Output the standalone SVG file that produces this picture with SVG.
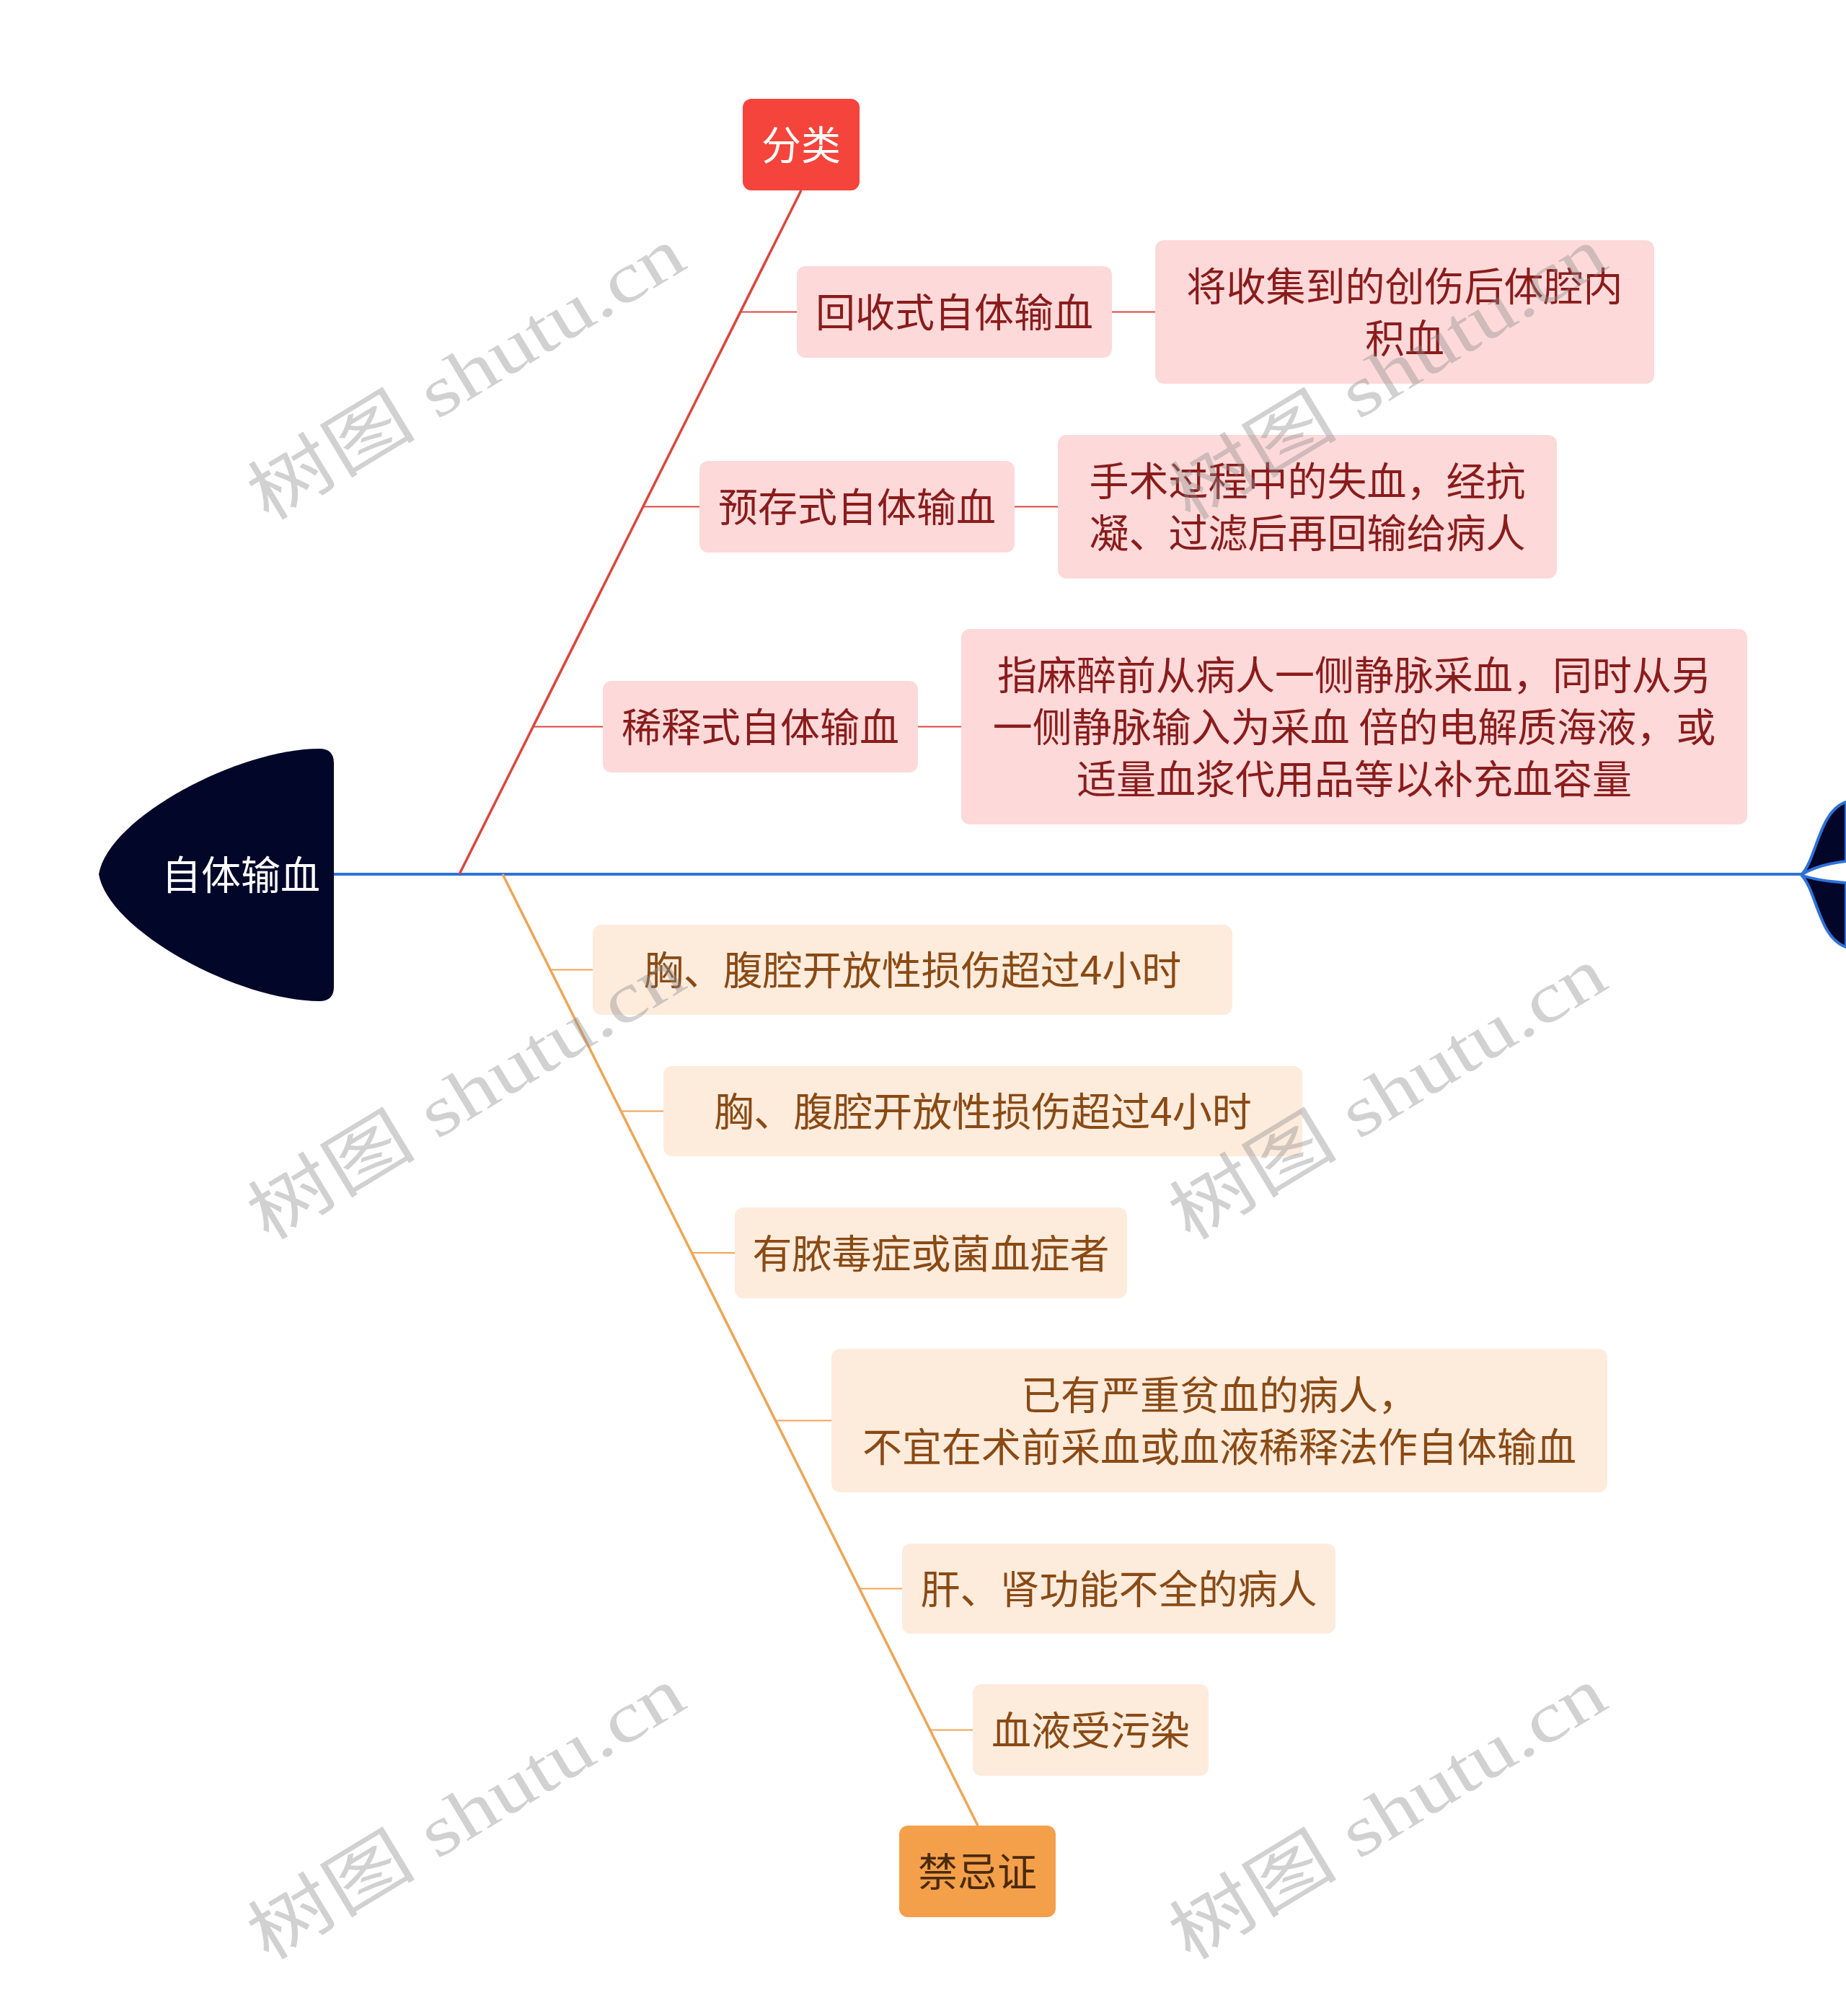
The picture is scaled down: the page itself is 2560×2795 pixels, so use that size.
<svg xmlns="http://www.w3.org/2000/svg" width="2560" height="2795" viewBox="0 0 2560 2795">
<style>
text{font-family:"Noto Sans CJK SC","Noto Sans",sans-serif;font-size:55px;text-anchor:middle;dominant-baseline:central}
.rb{fill:#fdd9d9}
.rt{fill:#8a1c1c}
.ob{fill:#fdebdc}
.ot{fill:#8a4a14}
.rl{stroke:#d9463e;stroke-width:2;fill:none}
.ol{stroke:#f0a454;stroke-width:2;fill:none}
.wm{font-family:"Liberation Serif","Noto Sans CJK SC",serif;font-size:98px;fill:#8c8c8c;fill-opacity:0.4;dominant-baseline:auto}
</style>
<rect width="2560" height="2795" fill="#ffffff"/>
<g id="connectors">
<path d="M463,1212 H2498" stroke="#2f72d8" stroke-width="4" fill="none"/>
<path d="M637,1212 L1111,264" stroke="#d9463e" stroke-width="3.5" fill="none"/>
<path class="rl" d="M1027,432.5 H1105 M892,702.5 H970 M740,1007.5 H836 M1542,432.5 H1602 M1407,702.5 H1467 M1273,1007.5 H1333"/>
<path d="M697,1212 L1356,2531" stroke="#f0a454" stroke-width="3.5" fill="none"/>
<path class="ol" d="M763,1344.5 H822 M861,1540.5 H920 M959,1737 H1019 M1075,1969.5 H1153 M1192,2202.5 H1251 M1290,2398.5 H1349"/>
</g>
<g id="root">
<path d="M443,1038 Q463,1038 463,1058 V1368 Q463,1388 443,1388 C330,1388 150,1290 137,1212 C150,1134 330,1038 443,1038 Z" fill="#020629"/>
<text x="334" y="1209" fill="#ffffff" font-size="56">自体输血</text>
</g>
<g id="tail">
<path d="M2498,1213 C2520,1190 2522,1125 2560,1112 V1194 C2535,1197 2512,1204 2498,1213 Z" fill="#020629" stroke="#2f72d8" stroke-width="4"/>
<path d="M2498,1213 C2520,1236 2522,1300 2560,1313 V1224 C2535,1222 2512,1219 2498,1213 Z" fill="#020629" stroke="#2f72d8" stroke-width="4"/>
</g>
<g id="fenlei">
<rect x="1030" y="137" width="162" height="127" rx="12" fill="#f5443b"/>
<text x="1111" y="197" fill="#ffffff">分类</text>
</g>
<g id="huishou">
<rect class="rb" x="1105" y="369" width="437" height="127" rx="12"/>
<text class="rt" x="1323.5" y="429">回收式自体输血</text>
</g>
<g id="huishou-d">
<rect class="rb" x="1602" y="333" width="692" height="199" rx="12"/>
<text class="rt" x="1948" y="393">将收集到的创伤后体腔内</text>
<text class="rt" x="1948" y="465">积血</text>
</g>
<g id="yucun">
<rect class="rb" x="970" y="639" width="437" height="127" rx="12"/>
<text class="rt" x="1188.5" y="699">预存式自体输血</text>
</g>
<g id="yucun-d">
<rect class="rb" x="1467" y="603" width="692" height="199" rx="12"/>
<text class="rt" x="1813" y="663">手术过程中的失血，经抗</text>
<text class="rt" x="1813" y="735">凝、过滤后再回输给病人</text>
</g>
<g id="xishi">
<rect class="rb" x="836" y="944" width="437" height="127" rx="12"/>
<text class="rt" x="1054.5" y="1004">稀释式自体输血</text>
</g>
<g id="xishi-d">
<rect class="rb" x="1333" y="872" width="1090" height="271" rx="12"/>
<text class="rt" x="1878" y="932">指麻醉前从病人一侧静脉采血，同时从另</text>
<text class="rt" x="1878" y="1004">一侧静脉输入为采血 倍的电解质海液，或</text>
<text class="rt" x="1878" y="1076">适量血浆代用品等以补充血容量</text>
</g>
<g id="jj1">
<rect class="ob" x="822" y="1282" width="887" height="125" rx="12"/>
<text class="ot" x="1265.5" y="1341">胸、腹腔开放性损伤超过4小时</text>
</g>
<g id="jj2">
<rect class="ob" x="920" y="1478" width="886" height="125" rx="12"/>
<text class="ot" x="1363" y="1537">胸、腹腔开放性损伤超过4小时</text>
</g>
<g id="jj3">
<rect class="ob" x="1019" y="1674" width="544" height="126" rx="12"/>
<text class="ot" x="1291" y="1733.5">有脓毒症或菌血症者</text>
</g>
<g id="jj4">
<rect class="ob" x="1153" y="1870" width="1076" height="199" rx="12"/>
<text class="ot" x="1691" y="1930">已有严重贫血的病人，</text>
<text class="ot" x="1691" y="2002">不宜在术前采血或血液稀释法作自体输血</text>
</g>
<g id="jj5">
<rect class="ob" x="1251" y="2140" width="601" height="125" rx="12"/>
<text class="ot" x="1551.5" y="2199">肝、肾功能不全的病人</text>
</g>
<g id="jj6">
<rect class="ob" x="1349" y="2335" width="327" height="127" rx="12"/>
<text class="ot" x="1512.5" y="2395">血液受污染</text>
</g>
<g id="jinjizheng">
<rect x="1247" y="2531" width="217" height="127" rx="12" fill="#f4a04b"/>
<text x="1355.5" y="2591" fill="#4a2a0c">禁忌证</text>
</g>
<g id="watermarks">
<text class="wm" transform="translate(646,518) rotate(-31.2)" x="0" y="34" textLength="684" lengthAdjust="spacingAndGlyphs">树图 shutu.cn</text>
<text class="wm" transform="translate(1924,518) rotate(-31.2)" x="0" y="34" textLength="684" lengthAdjust="spacingAndGlyphs">树图 shutu.cn</text>
<text class="wm" transform="translate(646,1516) rotate(-31.2)" x="0" y="34" textLength="684" lengthAdjust="spacingAndGlyphs">树图 shutu.cn</text>
<text class="wm" transform="translate(1924,1516) rotate(-31.2)" x="0" y="34" textLength="684" lengthAdjust="spacingAndGlyphs">树图 shutu.cn</text>
<text class="wm" transform="translate(646,2514) rotate(-31.2)" x="0" y="34" textLength="684" lengthAdjust="spacingAndGlyphs">树图 shutu.cn</text>
<text class="wm" transform="translate(1924,2514) rotate(-31.2)" x="0" y="34" textLength="684" lengthAdjust="spacingAndGlyphs">树图 shutu.cn</text>
</g>
</svg>
